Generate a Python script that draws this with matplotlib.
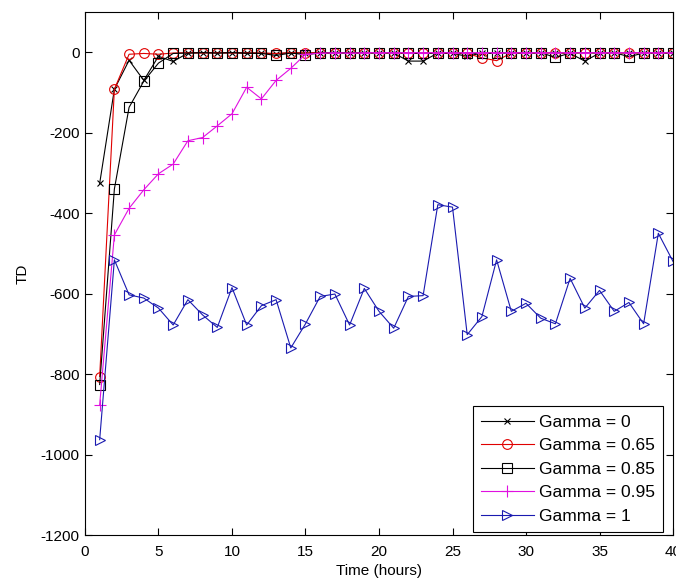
import matplotlib as mpl
import matplotlib.pyplot as plt
import numpy as np

mpl.rcParams.update({
    "font.family": "Liberation Sans",
    "font.size": 11,
    "axes.unicode_minus": False,
})

# time axis (hours), one sample per hour
hours = np.arange(1, 41)

# TD for each Gamma setting
td_g0 = [-326, -92, -20, -70, -10, -23, -2, -1, -2, -1,
         -3, -2, -4, -1, -2, -1, -2, -1, -2, -1,
         -2, -22, -22, -2, -3, -10, -2, -1, -2, -1,
         -2, -1, -3, -22, -2, -1, -2, -1, -2, -1]
td_g065 = [-806, -92, -5, -3, -5, -2, -1, -2, -1, -2,
           -1, -2, -3, -1, -2, -1, -2, -1, -2, -1,
           -2, -3, -2, -1, -2, -3, -14, -21, -2, -1,
           -2, -1, -2, -1, -2, -1, -2, -1, -2, -1]
td_g085 = [-826, -340, -137, -72, -27, -3, -2, -1, -2, -1,
           -2, -3, -8, -2, -6, -2, -1, -2, -1, -2,
           -1, -2, -3, -2, -1, -2, -3, -2, -1, -2,
           -1, -13, -2, -1, -2, -1, -11, -2, -1, -2]
td_g095 = [-876, -454, -388, -342, -302, -278, -220, -212, -183, -153,
           -87, -116, -70, -40, -5, -2, -1, -2, -1, -1,
           -1, -1, -1, -1, -1, -1, -1, -1, -1, -1,
           -1, -1, -1, -1, -1, -1, -1, -1, -1, -1]
td_g1 = [-963, -516, -603, -611, -636, -678, -615, -653, -684, -585,
         -678, -630, -615, -735, -675, -607, -601, -678, -587, -644,
         -686, -607, -605, -379, -385, -702, -657, -516, -644, -624,
         -661, -675, -562, -636, -592, -644, -622, -675, -450, -520]

labels = ["Gamma = 0", "Gamma = 0.65", "Gamma = 0.85", "Gamma = 0.95", "Gamma = 1"]

fig = plt.figure(figsize=(6.76, 5.83), dpi=100)
ax = fig.add_axes([0.1257, 0.0823, 0.8699, 0.8971])

lw = 0.8
ax.plot(hours, td_g0, color="black", marker="x", markersize=5, linewidth=lw,
        markeredgewidth=0.8, label=labels[0])
ax.plot(hours, td_g065, color="#e00000", marker="o", markersize=7, linewidth=lw,
        markerfacecolor="none", markeredgewidth=0.8, label=labels[1])
ax.plot(hours, td_g085, color="black", marker="s", markersize=7, linewidth=lw,
        markerfacecolor="none", markeredgewidth=0.8, label=labels[2])
ax.plot(hours, td_g095, color="#e010e0", marker="+", markersize=9, linewidth=lw,
        markeredgewidth=0.8, label=labels[3])
ax.plot(hours, td_g1, color="#1a1ab0", marker=">", markersize=7, linewidth=lw,
        markerfacecolor="none", markeredgewidth=0.8, label=labels[4])

ax.set_xlim(0, 40)
ax.set_ylim(-1200, 100)
ax.set_xticks(np.arange(0, 41, 5))
ax.set_yticks(np.arange(-1200, 1, 200))
ax.tick_params(direction="in", top=True, right=True, length=5, width=0.8)
ax.tick_params(axis="x", pad=7)
ax.tick_params(axis="y", pad=4)
for s in ax.spines.values():
    s.set_linewidth(0.8)

ax.set_xlabel("Time (hours)", labelpad=4)
ax.set_ylabel("TD", labelpad=8)

leg = ax.legend(loc="lower right", bbox_to_anchor=(0.983, 0.006), numpoints=1,
                fancybox=False, edgecolor="black", framealpha=1, fontsize=12.5,
                handlelength=3.05, handletextpad=0.3, labelspacing=0.48,
                borderpad=0.47, borderaxespad=0)
leg.get_frame().set_linewidth(0.8)

fig.savefig("out.png", dpi=100)
